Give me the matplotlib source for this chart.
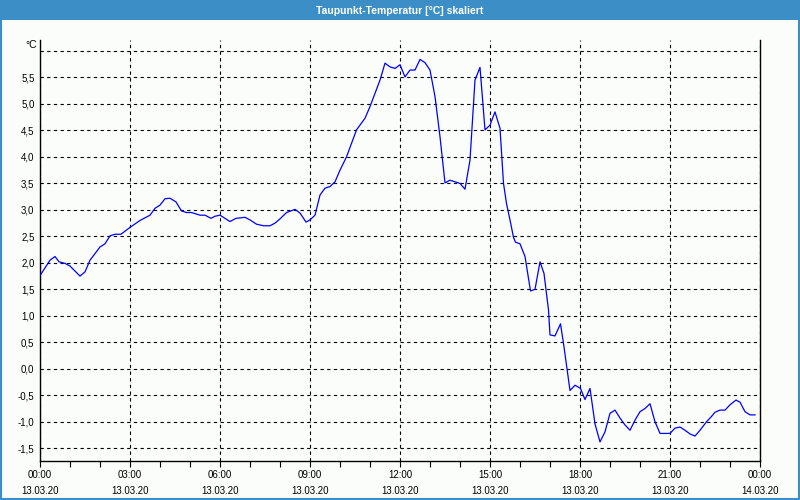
import numpy as np
import matplotlib.pyplot as plt
from matplotlib.patches import Rectangle
from matplotlib.ticker import MultipleLocator, FuncFormatter

# time of day in minutes after 00:00 on 13.03.20, dew point in degC
minutes = [0, 20, 30, 38, 50, 60, 80, 90, 100, 120, 130, 140, 150, 162, 180, 200, 220, 230,
           240, 250, 260, 272, 283, 293, 303, 320, 330, 342, 350, 360, 380, 392, 410, 420,
           433, 447, 460, 470, 480, 493, 510, 520, 532, 540, 550, 560, 570, 580, 590, 600,
           613, 633, 650, 660, 680, 690, 700, 710, 720, 730, 740, 750, 760, 770, 780, 790,
           800, 810, 820, 830, 840, 850, 860, 870, 880, 890, 900, 910, 920, 927, 933, 940,
           947, 951, 960, 970, 977, 981, 990, 1000, 1008, 1017, 1020, 1030, 1041, 1047, 1060,
           1070, 1081, 1090, 1100, 1110, 1120, 1130, 1140, 1150, 1160, 1170, 1180, 1190, 1200,
           1210, 1220, 1230, 1240, 1260, 1270, 1280, 1290, 1300, 1310, 1320, 1333, 1343, 1350,
           1360, 1370, 1380, 1392, 1400, 1410, 1420, 1430]
dewpoint = [1.76, 2.05, 2.12, 2.02, 1.99, 1.94, 1.75, 1.83, 2.05, 2.30, 2.36, 2.51, 2.54, 2.54,
            2.67, 2.80, 2.90, 3.03, 3.09, 3.21, 3.22, 3.15, 2.98, 2.95, 2.95, 2.90, 2.90, 2.84,
            2.88, 2.90, 2.78, 2.84, 2.86, 2.81, 2.73, 2.70, 2.70, 2.75, 2.83, 2.95, 3.01, 2.94,
            2.77, 2.81, 2.90, 3.28, 3.41, 3.44, 3.53, 3.75, 4.00, 4.51, 4.73, 4.95, 5.45, 5.77,
            5.70, 5.67, 5.74, 5.51, 5.64, 5.64, 5.84, 5.78, 5.64, 5.14, 4.38, 3.51, 3.56, 3.53,
            3.50, 3.39, 3.94, 5.45, 5.69, 4.51, 4.60, 4.85, 4.54, 3.50, 3.12, 2.81, 2.48, 2.39,
            2.36, 2.12, 1.71, 1.47, 1.50, 2.02, 1.80, 1.11, 0.64, 0.62, 0.85, 0.48, -0.41, -0.31,
            -0.37, -0.58, -0.37, -1.04, -1.38, -1.19, -0.84, -0.78, -0.93, -1.06, -1.16, -0.97,
            -0.81, -0.75, -0.66, -1.00, -1.22, -1.22, -1.12, -1.10, -1.16, -1.23, -1.27, -1.16,
            -1.00, -0.90, -0.82, -0.78, -0.78, -0.68, -0.59, -0.63, -0.81, -0.87, -0.87]

tick_hours = [0, 3, 6, 9, 12, 15, 18, 21, 24]
tick_labels = ["00:00\n13.03.20", "03:00\n13.03.20", "06:00\n13.03.20", "09:00\n13.03.20",
               "12:00\n13.03.20", "15:00\n13.03.20", "18:00\n13.03.20", "21:00\n13.03.20",
               "00:00\n14.03.20"]
title = "Taupunkt-Temperatur [°C] skaliert"

plt.rcParams["font.family"] = ["Liberation Sans", "DejaVu Sans"]
fig = plt.figure(figsize=(8, 5), dpi=100, facecolor="#fbfdfb")

# blue title bar and window frame
fig.patches.append(Rectangle((0, 0.96), 1, 0.04, transform=fig.transFigure,
                             facecolor="#3c8fc6", edgecolor="none", zorder=0))
fig.patches.append(Rectangle((0.0012, 0.002), 0.9976, 0.996, transform=fig.transFigure,
                             facecolor="none", edgecolor="#3c8fc6", linewidth=1.5, zorder=0))
fig.text(0.5, 0.979, title, color="white", fontsize=7.5, fontweight="bold",
         ha="center", va="center")

ax = fig.add_axes([0.05, 0.0786, 0.90, 0.8414])
ax.set_facecolor("#fbfdfb")
hours = np.array(minutes) / 60.0
ax.plot(hours, dewpoint, color="#0000ff", linewidth=0.9, zorder=3)

ax.set_xlim(0, 24)
ax.set_ylim(-1.735, 6.207)

ax.set_xticks(tick_hours)
ax.set_xticklabels(tick_labels, fontsize=7, linespacing=1.7)
ax.xaxis.set_minor_locator(MultipleLocator(1))
ax.tick_params(axis="x", which="both", direction="out", length=4, width=0.8, pad=3)

yt = np.arange(-1.5, 6.01, 0.5)
ax.set_yticks(yt)
ax.yaxis.set_major_formatter(FuncFormatter(
    lambda v, p: "" if v > 5.9 else f"{v:.1f}".replace(".", ",").replace("-0,0", "0,0")))
ax.tick_params(axis="y", length=0, labelsize=7, pad=4)

ax.grid(True, which="major", color="black", linewidth=0.8, linestyle=(0, (3, 3)))
ax.set_axisbelow(True)
ax.spines["top"].set_visible(False)
for s in ["left", "bottom", "right"]:
    ax.spines[s].set_linewidth(1.0)
    ax.spines[s].set_color("black")

ax.text(-0.004, 1.0, "°C", transform=ax.transAxes, fontsize=7.5, ha="right", va="top")

fig.savefig("out.png", dpi=100, facecolor=fig.get_facecolor())
